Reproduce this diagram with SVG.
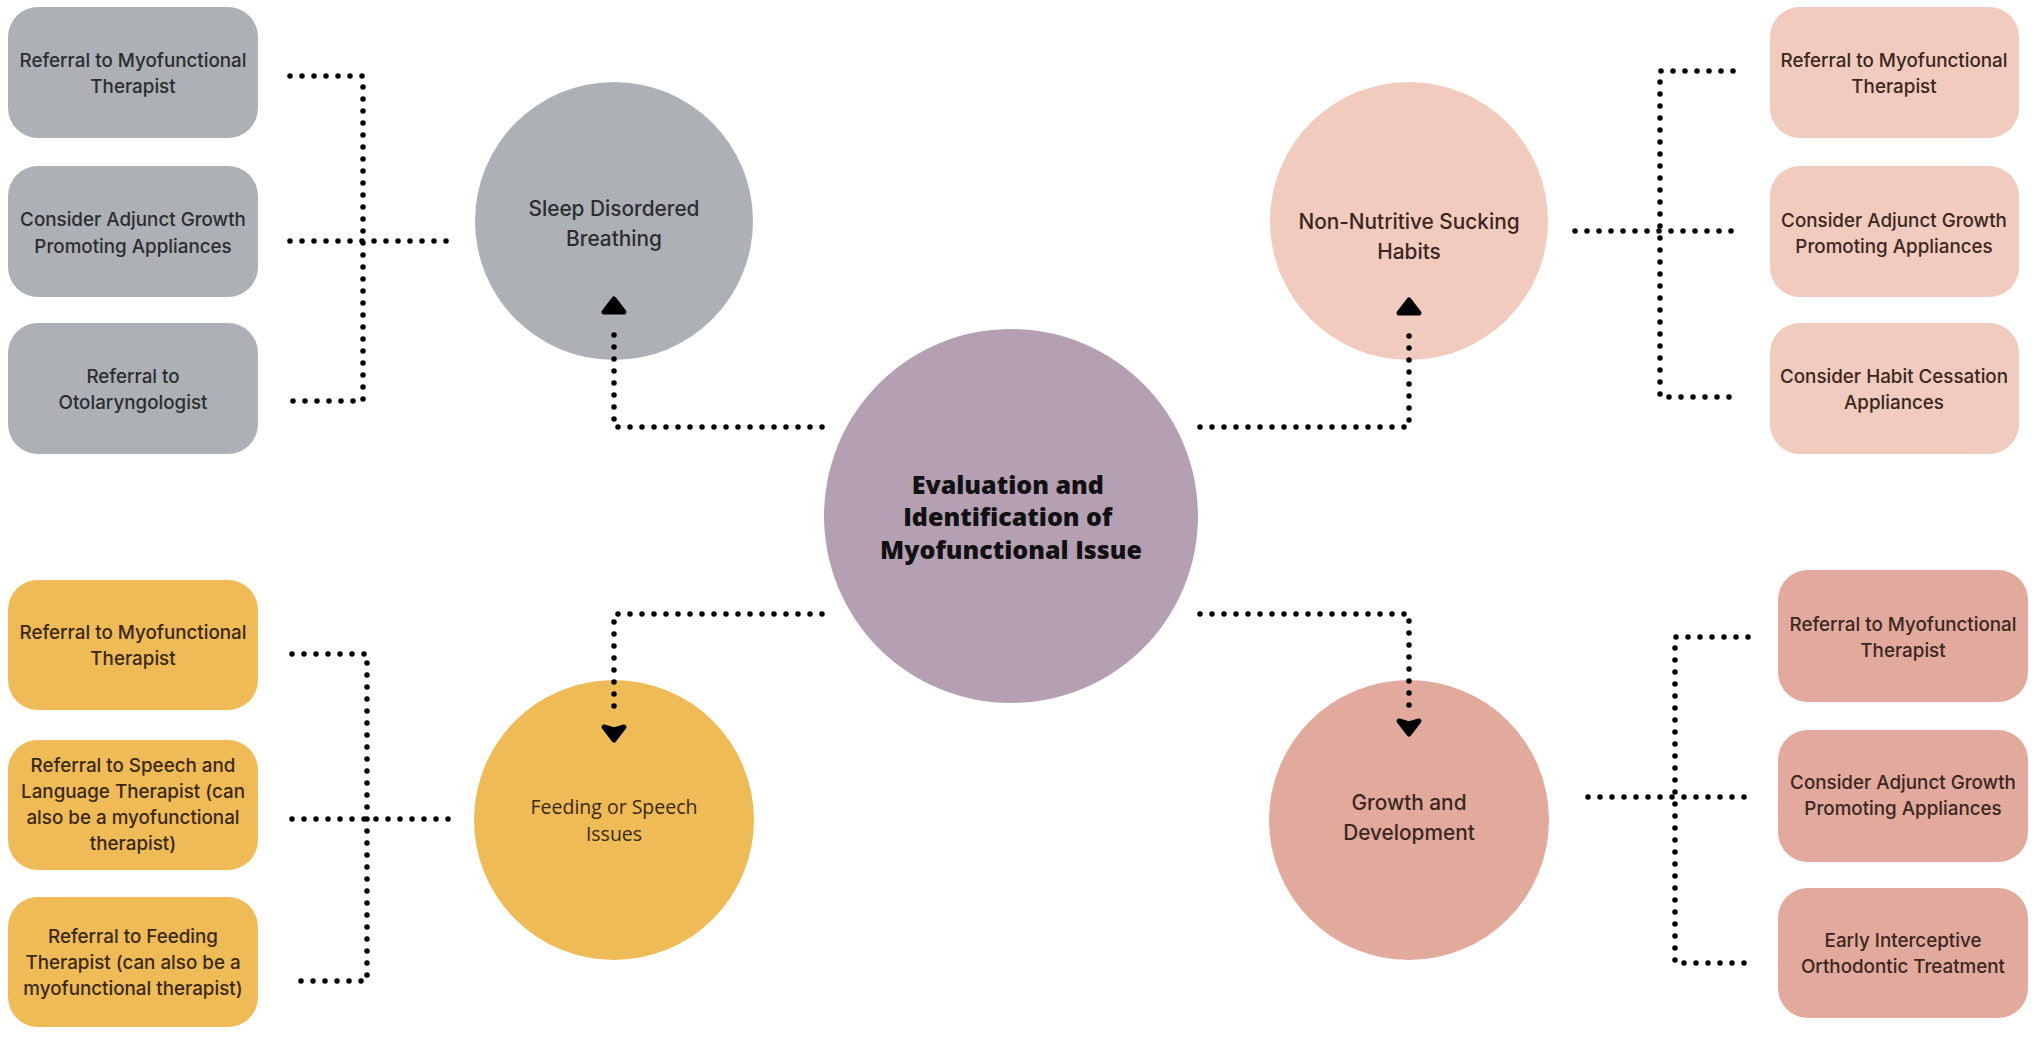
<svg xmlns="http://www.w3.org/2000/svg" width="2036" height="1037" viewBox="0 0 2036 1037">
<style>
.bt{font-family:Inter,"Liberation Sans",sans-serif;font-size:18.8px;font-weight:500;text-anchor:middle}
.ct{font-family:Inter,"Liberation Sans",sans-serif;font-size:20.8px;font-weight:500;text-anchor:middle}
.gray{fill:#adb1b5}
.peach{fill:#f1cbbd}
.yellow{fill:#efbb57}
.rose{fill:#e2a99d}
.tg{fill:#2b2d30}
.tp{fill:#3b2620}
.ty{fill:#3a2812}
.dot{fill:none;stroke:#000;stroke-width:5.5;stroke-linecap:round;stroke-dasharray:0 12}
.ah{fill:#000;stroke:#000;stroke-width:5;stroke-linejoin:round}
</style>
<rect width="2036" height="1037" fill="#fff"/>

<g id="center">
  <circle cx="1011" cy="516" r="187" fill="#b5a0b3"/>
  <text font-family="'Open Sans','Liberation Sans',sans-serif" font-weight="800" font-size="25" text-anchor="middle" fill="#111">
    <tspan x="1011" y="494">Evaluation and</tspan>
    <tspan x="1011" y="526">Identification of</tspan>
    <tspan x="1011" y="559">Myofunctional Issue</tspan>
  </text>
</g>

<g id="sleep">
  <circle cx="614" cy="221" r="139" class="gray"/>
  <text class="ct tg"><tspan x="614" y="216">Sleep Disordered</tspan><tspan x="614" y="246">Breathing</tspan></text>
</g>
<g id="nns">
  <circle cx="1409" cy="221" r="139" class="peach"/>
  <text class="ct tp"><tspan x="1409" y="229">Non-Nutritive Sucking</tspan><tspan x="1409" y="259">Habits</tspan></text>
</g>
<g id="feeding">
  <circle cx="614" cy="820" r="140" class="yellow"/>
  <text font-family="'Open Sans','Liberation Sans',sans-serif" font-size="19.5" text-anchor="middle" class="ty"><tspan x="614" y="814">Feeding or Speech</tspan><tspan x="614" y="841">Issues</tspan></text>
</g>
<g id="growth">
  <circle cx="1409" cy="820" r="140" class="rose"/>
  <text class="ct tp"><tspan x="1409" y="810">Growth and</tspan><tspan x="1409" y="840">Development</tspan></text>
</g>

<g id="sbd-1">
  <rect x="8" y="7" width="250" height="131" rx="30" class="gray"/>
  <text class="bt tg"><tspan x="133" y="67">Referral to Myofunctional</tspan><tspan x="133" y="93">Therapist</tspan></text>
</g>
<g id="sbd-2">
  <rect x="8" y="166" width="250" height="131" rx="30" class="gray"/>
  <text class="bt tg"><tspan x="133" y="226">Consider Adjunct Growth</tspan><tspan x="133" y="253">Promoting Appliances</tspan></text>
</g>
<g id="sbd-3">
  <rect x="8" y="323" width="250" height="131" rx="30" class="gray"/>
  <text class="bt tg"><tspan x="133" y="383">Referral to</tspan><tspan x="133" y="409">Otolaryngologist</tspan></text>
</g>

<g id="nns-1">
  <rect x="1770" y="7" width="249" height="131" rx="30" class="peach"/>
  <text class="bt tp"><tspan x="1894" y="67">Referral to Myofunctional</tspan><tspan x="1894" y="93">Therapist</tspan></text>
</g>
<g id="nns-2">
  <rect x="1770" y="166" width="249" height="131" rx="30" class="peach"/>
  <text class="bt tp"><tspan x="1894" y="227">Consider Adjunct Growth</tspan><tspan x="1894" y="253">Promoting Appliances</tspan></text>
</g>
<g id="nns-3">
  <rect x="1770" y="323" width="249" height="131" rx="30" class="peach"/>
  <text class="bt tp"><tspan x="1894" y="383">Consider Habit Cessation</tspan><tspan x="1894" y="409">Appliances</tspan></text>
</g>

<g id="fs-1">
  <rect x="8" y="580" width="250" height="130" rx="30" class="yellow"/>
  <text class="bt ty"><tspan x="133" y="639">Referral to Myofunctional</tspan><tspan x="133" y="665">Therapist</tspan></text>
</g>
<g id="fs-2">
  <rect x="8" y="740" width="250" height="130" rx="30" class="yellow"/>
  <text class="bt ty"><tspan x="133" y="772">Referral to Speech and</tspan><tspan x="133" y="798">Language Therapist (can</tspan><tspan x="133" y="824">also be a myofunctional</tspan><tspan x="133" y="850">therapist)</tspan></text>
</g>
<g id="fs-3">
  <rect x="8" y="897" width="250" height="130" rx="30" class="yellow"/>
  <text class="bt ty"><tspan x="133" y="943">Referral to Feeding</tspan><tspan x="133" y="969">Therapist (can also be a</tspan><tspan x="133" y="995">myofunctional therapist)</tspan></text>
</g>

<g id="gd-1">
  <rect x="1778" y="570" width="250" height="132" rx="30" class="rose"/>
  <text class="bt tp"><tspan x="1903" y="631">Referral to Myofunctional</tspan><tspan x="1903" y="657">Therapist</tspan></text>
</g>
<g id="gd-2">
  <rect x="1778" y="730" width="250" height="132" rx="30" class="rose"/>
  <text class="bt tp"><tspan x="1903" y="789">Consider Adjunct Growth</tspan><tspan x="1903" y="815">Promoting Appliances</tspan></text>
</g>
<g id="gd-3">
  <rect x="1778" y="888" width="250" height="130" rx="30" class="rose"/>
  <text class="bt tp"><tspan x="1903" y="947">Early Interceptive</tspan><tspan x="1903" y="973">Orthodontic Treatment</tspan></text>
</g>

<g id="connectors">
  <path class="dot" d="M290 76 H363 V401 H290"/>
  <path class="dot" d="M290 241 H450"/>
  <path class="dot" d="M1733 71 H1660 V397 H1737"/>
  <path class="dot" d="M1575 231 H1733"/>
  <path class="dot" d="M292 654 H367 V981 H292"/>
  <path class="dot" d="M292 819 H453"/>
  <path class="dot" d="M1748 637 H1675 V963 H1750"/>
  <path class="dot" d="M1588 797 H1748"/>
  <path class="dot" d="M822 427 H614 V324"/>
  <path class="ah" d="M614 299 L624 312 L604 312 Z"/>
  <path class="dot" d="M1200 427 H1409 V326"/>
  <path class="ah" d="M1409 300 L1419 313 L1399 313 Z"/>
  <path class="dot" d="M822 614 H614 V712"/>
  <path class="ah" d="M614 740 L624 727 L614 730 L604 727 Z"/>
  <path class="dot" d="M1200 614 H1409 V707"/>
  <path class="ah" d="M1409 734 L1419 721 L1409 724 L1399 721 Z"/>
</g>
</svg>
